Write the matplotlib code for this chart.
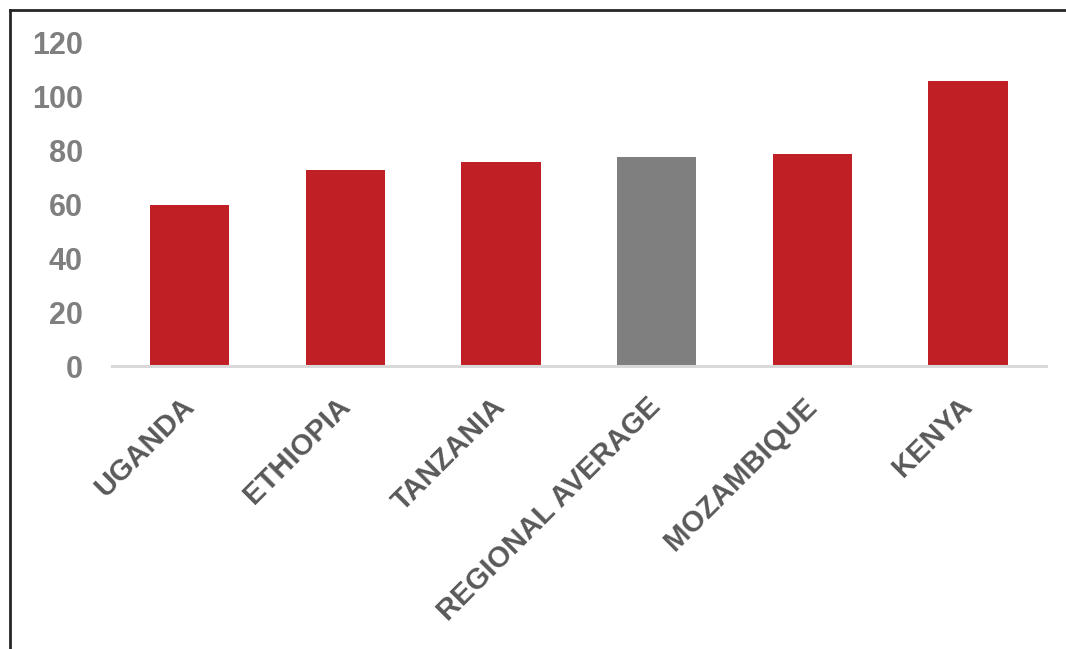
import matplotlib
matplotlib.use('Agg')
import matplotlib.pyplot as plt
from matplotlib.lines import Line2D

plt.rcParams['font.family'] = ['Liberation Sans', 'DejaVu Sans']

# data
countries = ['UGANDA', 'ETHIOPIA', 'TANZANIA', 'REGIONAL AVERAGE', 'MOZAMBIQUE', 'KENYA']
values = [59.5, 72.6, 75.6, 77.5, 78.5, 105.6]
highlight = 'REGIONAL AVERAGE'
yticks = [0, 20, 40, 60, 80, 100, 120]

RED = '#C01F26'
GREY = '#7F7F7F'

fig = plt.figure(figsize=(10.66, 6.49), dpi=100)
ax = fig.add_axes([0.105, 0.436, 0.876, 0.499])

colors = [GREY if c == highlight else RED for c in countries]
ax.bar(range(len(countries)), values, width=0.51, color=colors, zorder=2)

ax.set_xlim(-0.5, len(countries) - 0.5)
ax.set_ylim(0, 120)
ax.set_yticks(yticks)
ax.set_yticklabels([str(t) for t in yticks], fontsize=22, fontweight='bold', color='#7F7F7F')
ax.tick_params(axis='y', length=0, pad=21)

ax.set_xticks(range(len(countries)))
ax.set_xticklabels(countries, rotation=45, ha='right', va='center', rotation_mode='anchor',
                   fontsize=21, fontweight='bold', color='#595959')
ax.tick_params(axis='x', length=0, pad=26)

for side in ['top', 'right', 'left']:
    ax.spines[side].set_visible(False)
ax.spines['bottom'].set_color('#D9D9D9')
ax.spines['bottom'].set_linewidth(2.2)
ax.spines['bottom'].set_zorder(3)

# outer frame (left and top edges visible)
fx = 10 / 1066
fy = 1 - 10 / 649
fig.add_artist(Line2D([fx, fx], [0, fy], transform=fig.transFigure, color='#262626', lw=2))
fig.add_artist(Line2D([fx, 1], [fy, fy], transform=fig.transFigure, color='#262626', lw=2))

fig.savefig('out.png', dpi=100)
